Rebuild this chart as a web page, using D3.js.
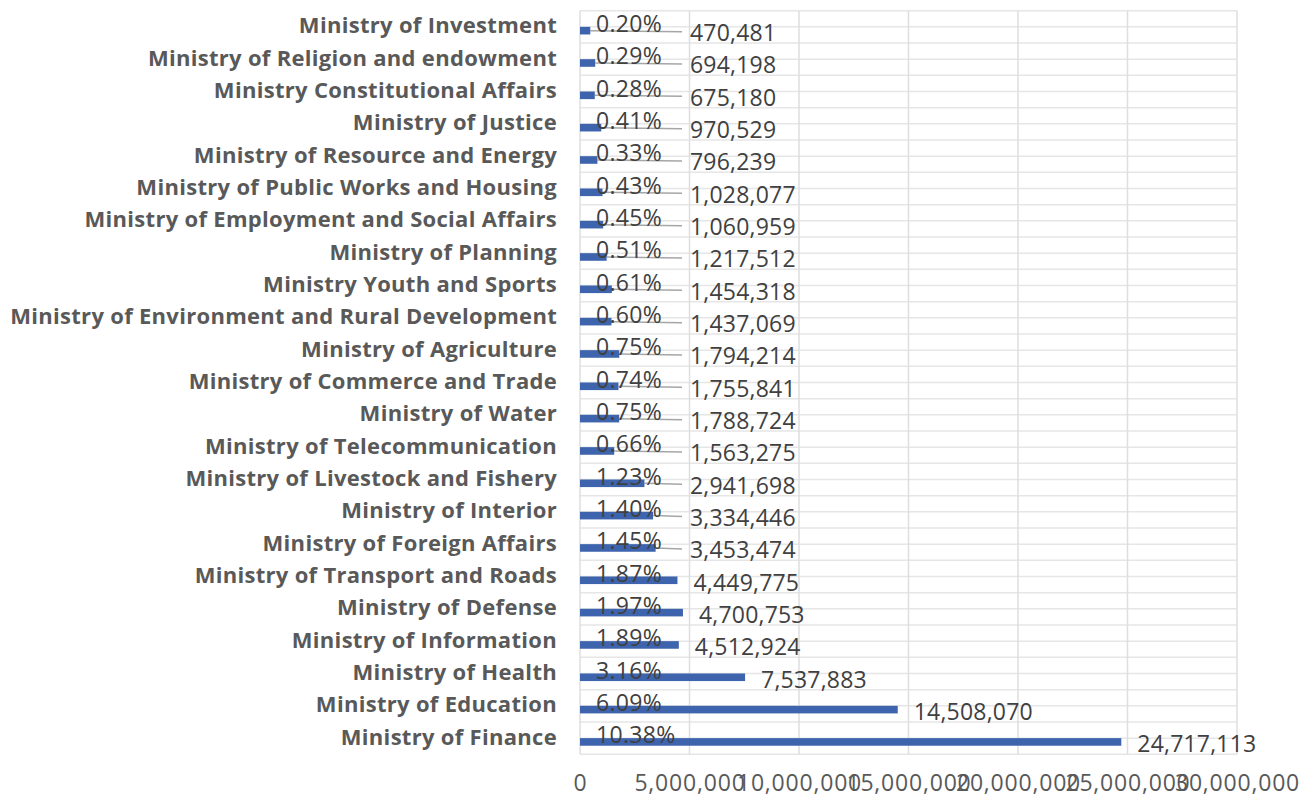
<!DOCTYPE html>
<html>
<head>
<meta charset="utf-8">
<script src="https://cdn.jsdelivr.net/npm/d3@7"></script>
<style>
  body { margin: 0; background: #fff; }
  svg { display: block; }
  svg text { font-family: "Open Sans", sans-serif; }
</style>
</head>
<body>
<div id="chart"></div>
<script>
var categories = [
  'Ministry of Investment',
  'Ministry of Religion and endowment',
  'Ministry Constitutional Affairs',
  'Ministry of Justice',
  'Ministry of Resource and Energy',
  'Ministry of Public Works and Housing',
  'Ministry of Employment and Social Affairs',
  'Ministry of Planning',
  'Ministry Youth and Sports',
  'Ministry of Environment and Rural Development',
  'Ministry of Agriculture',
  'Ministry of Commerce and Trade',
  'Ministry of Water',
  'Ministry of Telecommunication',
  'Ministry of Livestock and Fishery',
  'Ministry of Interior',
  'Ministry of Foreign Affairs',
  'Ministry of Transport and Roads',
  'Ministry of Defense',
  'Ministry of Information',
  'Ministry of Health',
  'Ministry of Education',
  'Ministry of Finance'
];

var values = [
  470481, 694198, 675180, 970529, 796239, 1028077, 1060959, 1217512,
  1454318, 1437069, 1794214, 1755841, 1788724, 1563275, 2941698, 3334446,
  3453474, 4449775, 4700753, 4512924, 7537883, 14508070, 24717113
];

var shares = [
  0.20, 0.29, 0.28, 0.41, 0.33, 0.43, 0.45, 0.51, 0.61, 0.60, 0.75, 0.74,
  0.75, 0.66, 1.23, 1.40, 1.45, 1.87, 1.97, 1.89, 3.16, 6.09, 10.38
];

var xTicks = [0, 5000000, 10000000, 15000000, 20000000, 25000000, 30000000];

var width  = 1312,
    height = 795;

var plotLeft   = 580,
    plotRight  = 1237,
    plotTop    = 10.7,
    plotBottom = 754.3;

var svg = d3.select('#chart')
  .append('svg')
  .attr('width', width)
  .attr('height', height);

var x = d3.scaleLinear()
  .domain([0, 30000000])
  .range([plotLeft, plotRight]);

var y = d3.scaleBand()
  .domain(categories)
  .range([plotTop, plotBottom])
  .padding(0);

var bw = y.bandwidth();

// gridlines: horizontal every half band, vertical on each tick
var grid = svg.append('g').attr('class', 'grid');

grid.selectAll('line.h')
  .data(d3.range(categories.length * 2 + 1))
  .enter().append('line')
  .attr('class', 'h')
  .attr('x1', plotLeft)
  .attr('x2', plotRight)
  .attr('y1', function(d) { return plotTop + d * bw / 2; })
  .attr('y2', function(d) { return plotTop + d * bw / 2; })
  .attr('stroke', '#e6e6e6')
  .attr('stroke-width', 1.5);

grid.selectAll('line.v')
  .data(xTicks)
  .enter().append('line')
  .attr('class', 'v')
  .attr('x1', function(d) { return x(d); })
  .attr('x2', function(d) { return x(d); })
  .attr('y1', plotTop)
  .attr('y2', plotBottom)
  .attr('stroke', '#dedede')
  .attr('stroke-width', 1.5);

// category axis
var yAxis = svg.append('g')
  .attr('transform', 'translate(' + plotLeft + ',0)')
  .call(d3.axisLeft(y).tickSize(0).tickPadding(23));

yAxis.select('.domain').remove();
yAxis.selectAll('text')
  .attr('fill', '#595959')
  .style('font-size', '22px')
  .style('letter-spacing', '0.3px')
  .style('font-weight', 'bold')
  .attr('dy', '0.3em');

// value axis
var xAxis = svg.append('g')
  .attr('transform', 'translate(0,' + plotBottom + ')')
  .call(d3.axisBottom(x).tickValues(xTicks).tickFormat(d3.format(',')).tickSize(0).tickPadding(20));

xAxis.select('.domain').remove();
xAxis.selectAll('text')
  .attr('fill', '#595959')
  .style('font-size', '23px')
  .style('letter-spacing', '0.8px');

var rows = categories.map(function(c, i) {
  return { name: c, value: values[i], share: shares[i] };
});

var barH = bw * 0.235;

// label placement
var labelX = function(d) { return Math.max(x(d.value) + 16, 690); };

svg.append('g').selectAll('line')
  .data(rows.filter(function(d) { return labelX(d) - x(d.value) > 24; }))
  .enter().append('line')
  .attr('x1', function(d) { return x(d.value); })
  .attr('x2', function(d) { return labelX(d) - 8; })
  .attr('y1', function(d) { return y(d.name) + bw / 2 + barH / 2; })
  .attr('y2', function(d) { return y(d.name) + bw / 2 + barH / 2 + 1; })
  .attr('stroke', '#a6a6a6')
  .attr('stroke-width', 1.5);

svg.append('g').selectAll('rect')
  .data(rows)
  .enter().append('rect')
  .attr('x', x(0))
  .attr('y', function(d) { return y(d.name) + bw / 2; })
  .attr('width', function(d) { return x(d.value) - x(0); })
  .attr('height', barH)
  .attr('fill', '#3d64ad');

svg.append('g').selectAll('text')
  .data(rows)
  .enter().append('text')
  .attr('x', x(0) + 16)
  .attr('y', function(d) { return y(d.name) + bw / 2 - 3; })
  .attr('dy', '0.35em')
  .attr('fill', '#404040')
  .style('font-size', '23px')
  .style('letter-spacing', '0.3px')
  .text(function(d) { return d.share.toFixed(2) + '%'; });

svg.append('g').selectAll('text')
  .data(rows)
  .enter().append('text')
  .attr('x', labelX)
  .attr('y', function(d) { return y(d.name) + bw / 2 + 6; })
  .attr('dy', '0.35em')
  .attr('fill', '#404040')
  .style('font-size', '23px')
  .style('letter-spacing', '0.2px')
  .text(function(d) { return d3.format(',')(d.value); });
</script>
</body>
</html>
